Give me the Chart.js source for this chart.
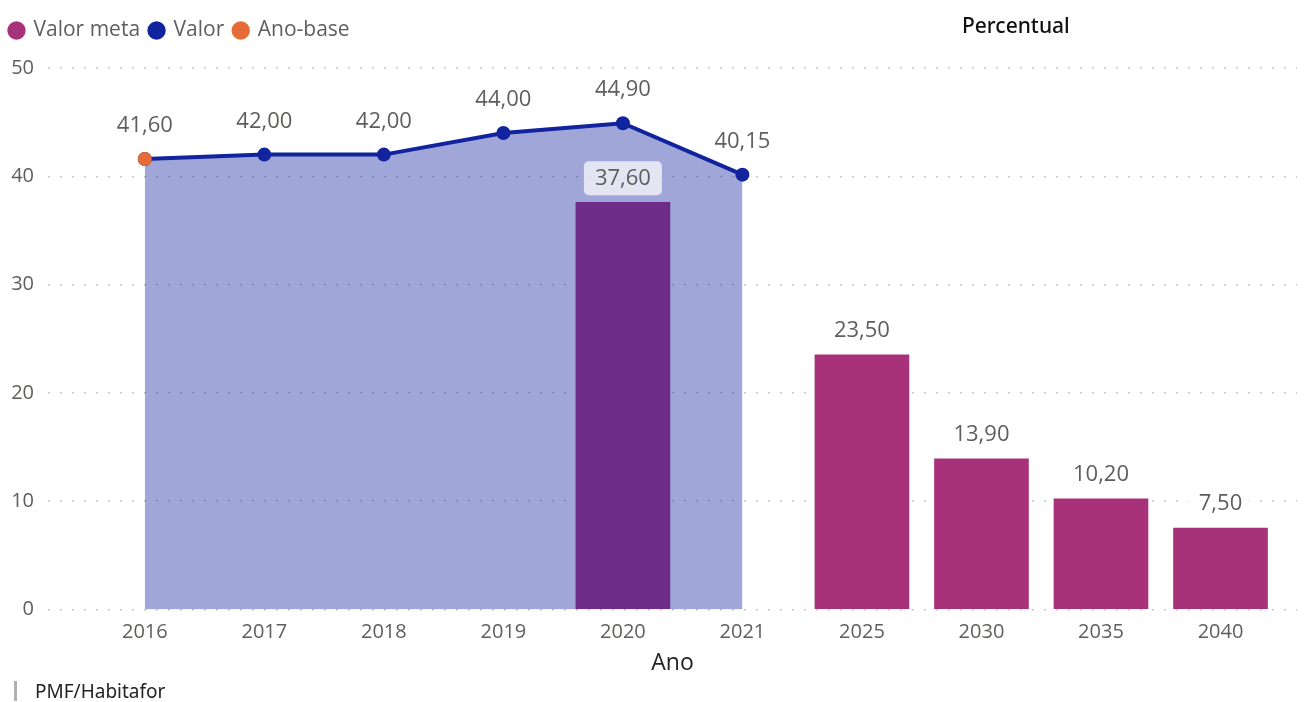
<!DOCTYPE html>
<html>
<head>
<meta charset="utf-8">
<script src="https://cdn.jsdelivr.net/npm/chart.js@4.4.1/dist/chart.umd.min.js"></script>
<style>
  body { margin: 0; background: #fff; }
  #wrap { position: relative; width: 1304px; height: 702px; }
  #titulo { position: absolute; left: 962px; top: 11px; font: 500 21px "Noto Sans", sans-serif; color: #111; }
  #fonte { position: absolute; left: 14px; top: 681px; height: 20px; border-left: 3px solid #b3b0ad;
           padding-left: 18px; font: 19px "Noto Sans", sans-serif; color: #252423; line-height: 20px; }
</style>
</head>
<body>
<div id="wrap">
  <canvas id="grafico" width="1304" height="702"></canvas>
  <div id="titulo">Percentual</div>
  <div id="fonte">PMF/Habitafor</div>
</div>
<script>
// categorias do eixo x
const anos = ['2016', '2017', '2018', '2019', '2020', '2021', '2025', '2030', '2035', '2040'];
// série "Valor" (linha com área), de 2016 a 2021
const valor = [41.60, 42.00, 42.00, 44.00, 44.90, 40.15];
// série "Valor meta" (barras): ano -> valor
const metaAnos = ['2020', '2025', '2030', '2035', '2040'];
const metaValores = [37.60, 23.50, 13.90, 10.20, 7.50];
// ano-base
const anoBase = '2016';
const anoBaseValor = 41.60;

const fmt = v => v.toLocaleString('pt-BR', { minimumFractionDigits: 2, maximumFractionDigits: 2 });

// rótulos de dados desenhados sobre os elementos
const rotulos = {
  id: 'rotulos',
  afterDatasetsDraw(chart) {
    const ctx = chart.ctx;
    ctx.save();
    ctx.font = '22px "Open Sans", sans-serif';
    ctx.textAlign = 'center';
    ctx.textBaseline = 'middle';
    // barras
    chart.getDatasetMeta(0).data.forEach((el, i) => {
      const y = el.y - 24;
      const txt = fmt(metaValores[i]);
      const w = ctx.measureText(txt).width + 22;
      ctx.fillStyle = 'rgba(255,255,255,0.7)';
      ctx.beginPath();
      ctx.roundRect(el.x - w / 2, y - 17, w, 34, 5);
      ctx.fill();
      ctx.fillStyle = '#605E5C';
      ctx.fillText(txt, el.x, y);
    });
    // linha
    chart.getDatasetMeta(1).data.forEach((el, i) => {
      ctx.fillStyle = '#605E5C';
      ctx.fillText(fmt(valor[i]), el.x, el.y - 33);
    });
    ctx.restore();
  }
};

// espaço extra abaixo da legenda
const margemLegenda = {
  id: 'margemLegenda',
  beforeInit(chart) {
    const fit = chart.legend.fit;
    chart.legend.fit = function () {
      fit.bind(chart.legend)();
      this.height += 17;
    };
  }
};

new Chart(document.getElementById('grafico'), {
  type: 'line',
  data: {
    datasets: [{
      type: 'bar',
      label: 'Valor meta',
      data: metaAnos.map((a, i) => ({ x: anos.indexOf(a), y: metaValores[i] })),
      backgroundColor: '#A8327A',
      barThickness: 94,
      order: 3
    }, {
      label: 'Valor',
      data: valor.map((v, i) => ({ x: i, y: v })),
      borderColor: '#12239E',
      backgroundColor: 'rgba(18,35,158,0.4)',
      borderWidth: 4,
      pointRadius: 7,
      pointBackgroundColor: '#12239E',
      pointBorderWidth: 0,
      fill: 'origin',
      tension: 0,
      order: 2
    }, {
      label: 'Ano-base',
      data: [{ x: anos.indexOf(anoBase), y: anoBaseValor }],
      showLine: false,
      borderColor: '#E66C37',
      backgroundColor: '#E66C37',
      pointRadius: 7,
      pointBorderWidth: 0,
      order: 1
    }]
  },
  options: {
    responsive: false,
    animation: false,
    layout: { padding: { left: 0, right: 4, top: 10, bottom: 25 } },
    plugins: {
      tooltip: { enabled: false },
      legend: {
        position: 'top',
        align: 'start',
        labels: {
          usePointStyle: true,
          pointStyle: 'circle',
          boxWidth: 13,
          boxHeight: 13,
          padding: 10,
          color: '#605E5C',
          font: { size: 21, family: '"Open Sans", sans-serif' },
          generateLabels(chart) {
            return chart.data.datasets.map((d, i) => ({
              text: d.label,
              fillStyle: d.type === 'bar' ? d.backgroundColor : d.borderColor,
              strokeStyle: d.type === 'bar' ? d.backgroundColor : d.borderColor,
              lineWidth: 0,
              pointStyle: 'circle',
              fontColor: '#605E5C',
              datasetIndex: i
            }));
          }
        }
      }
    },
    scales: {
      x: {
        type: 'linear',
        min: -0.81,
        max: 9.64,
        offset: false,
        afterBuildTicks(scale) { scale.ticks = anos.map((a, i) => ({ value: i })); },
        ticks: {
          callback: v => anos[v],
          color: '#605E5C',
          font: { size: 20, family: '"Open Sans", sans-serif' },
          padding: 3,
          maxRotation: 0
        },
        grid: { display: false, offset: false },
        border: { display: false },
        title: {
          display: true,
          text: 'Ano',
          color: '#252423',
          font: { size: 23, family: '"Open Sans", sans-serif' },
          padding: { top: 2, bottom: 0 }
        }
      },
      y: {
        min: 0,
        max: 50,
        ticks: {
          stepSize: 10,
          color: '#605E5C',
          font: { size: 20, family: '"Open Sans", sans-serif' },
          padding: 14
        },
        afterFit(scale) { scale.width = 48; },
        grid: { color: '#C8C6C4', lineWidth: 1.5, drawTicks: false },
        border: { display: false, dash: [2, 10] }
      }
    }
  },
  plugins: [rotulos, margemLegenda]
});
</script>
</body>
</html>
